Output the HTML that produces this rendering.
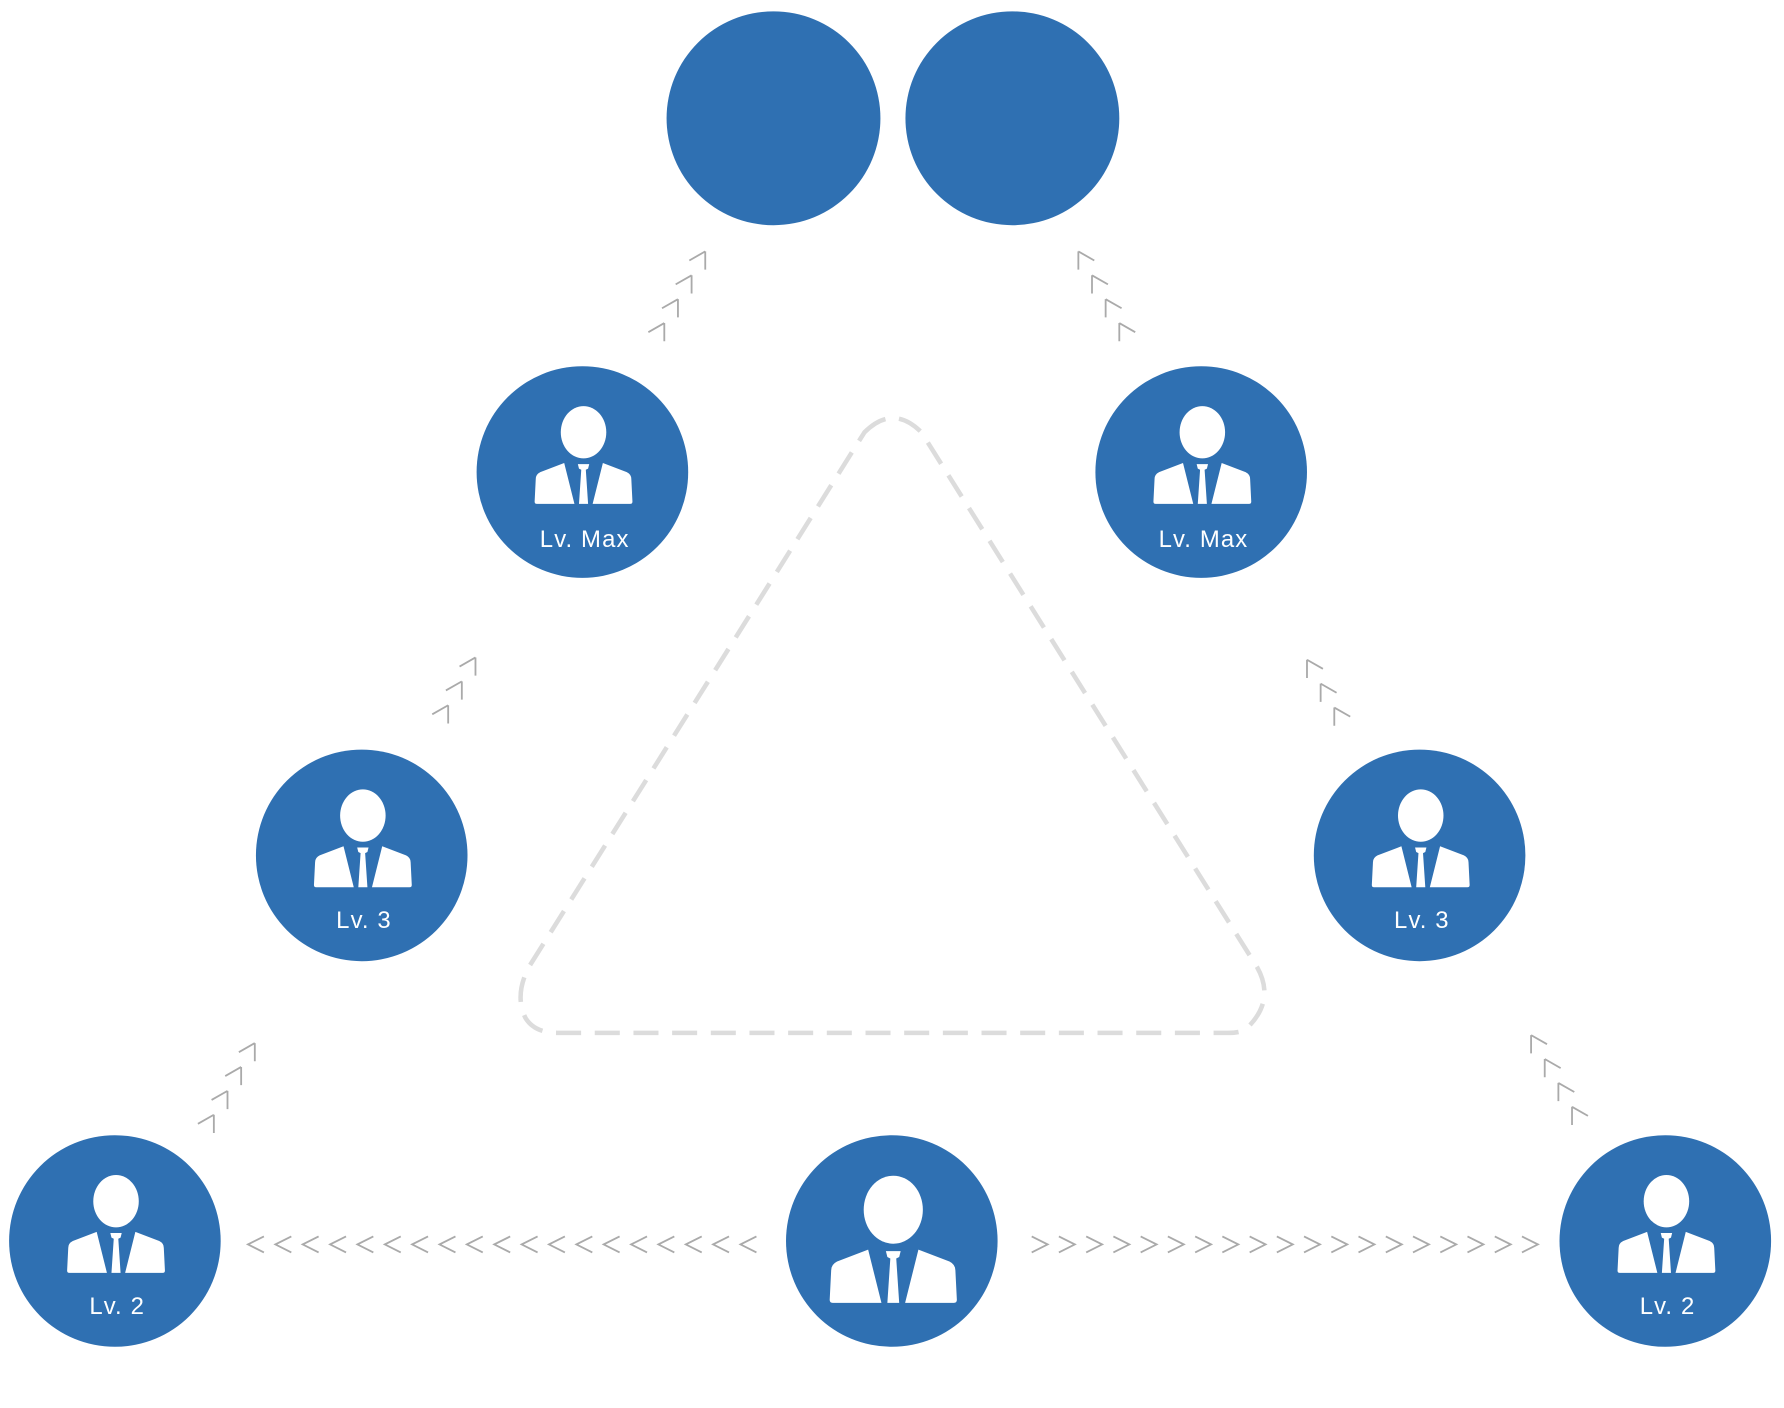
<!DOCTYPE html>
<html><head><meta charset="utf-8"><style>html,body{margin:0;padding:0;background:#fff}svg{display:block}</style></head>
<body>
<svg width="1784" height="1408" viewBox="0 0 1784 1408" xmlns="http://www.w3.org/2000/svg">
<defs>
<g id="man" fill="#fff">
<ellipse cx="1" cy="-35" rx="20" ry="23"/>
<path d="M-16,-8 L-37,0 Q-41,2 -41,6 L-42,26 Q-42,28 -40,28 L-7,28 Z"/>
<path d="M18,-8 L39,0 Q43,2 43,6 L44,26 Q44,28 42,28 L9,28 Z"/>
<path d="M-4,-7 L6,-7 L5,-3 L3,-2 L5,28 L-3,28 L-1,-2 L-3,-3 Z"/>
</g>
<g id="cl"><path d="M0,0 L0,16 M0,0 L-14,8" fill="none" stroke="#aaa" stroke-width="1.6"/></g>
<g id="cr"><path d="M0,0 L0,16 M0,0 L14,8" fill="none" stroke="#aaa" stroke-width="1.6"/></g>
<g id="lt"><path d="M14,-7 L0,0 L14,7" fill="none" stroke="#aaa" stroke-width="1.6"/></g>
<g id="gt"><path d="M-14,-7 L0,0 L-14,7" fill="none" stroke="#aaa" stroke-width="1.6"/></g>
</defs>
<g transform="scale(1.1375)">
<path d="M760,380 Q785,355 810,380 L1105,850 Q1122,880 1095,905 Q1090,908 1080,908 L490,908 Q470,908 462,895 Q452,875 465,850 Z" fill="none" stroke="#dcdcdc" stroke-width="4" stroke-dasharray="22 12"/>
<g fill="#2f70b2">
<circle cx="680" cy="104" r="94"/>
<circle cx="890" cy="104" r="94"/>
<circle cx="512" cy="415" r="93"/>
<circle cx="1056" cy="415" r="93"/>
<circle cx="318" cy="752" r="93"/>
<circle cx="1248" cy="752" r="93"/>
<circle cx="101" cy="1091" r="93"/>
<circle cx="784" cy="1091" r="93"/>
<circle cx="1464" cy="1091" r="93"/>
</g>
<use href="#man" x="512" y="415"/>
<use href="#man" x="1056" y="415"/>
<use href="#man" x="318" y="752"/>
<use href="#man" x="1248" y="752"/>
<use href="#man" x="101" y="1091"/>
<use href="#man" x="1464" y="1091"/>
<g transform="translate(784,1109) scale(1.3)"><use href="#man"/></g>
<g fill="#fff" font-family="Liberation Sans, sans-serif" font-size="21" text-anchor="middle" letter-spacing="1">
<text x="514" y="481">Lv. Max</text>
<text x="1058" y="481">Lv. Max</text>
<text x="320" y="816">Lv. 3</text>
<text x="1250" y="816">Lv. 3</text>
<text x="103" y="1155">Lv. 2</text>
<text x="1466" y="1155">Lv. 2</text>
</g>
<use href="#cl" x="224" y="917"/><use href="#cl" x="212" y="938"/><use href="#cl" x="200" y="959"/><use href="#cl" x="188" y="980"/>
<use href="#cl" x="418" y="578"/><use href="#cl" x="406" y="599"/><use href="#cl" x="394" y="620"/>
<use href="#cl" x="620" y="221"/><use href="#cl" x="608" y="242"/><use href="#cl" x="596" y="263"/><use href="#cl" x="584" y="284"/>
<use href="#cr" x="948" y="221"/><use href="#cr" x="960" y="242"/><use href="#cr" x="972" y="263"/><use href="#cr" x="984" y="284"/>
<use href="#cr" x="1149" y="580"/><use href="#cr" x="1161" y="601"/><use href="#cr" x="1173" y="622"/>
<use href="#cr" x="1346" y="910"/><use href="#cr" x="1358" y="931"/><use href="#cr" x="1370" y="952"/><use href="#cr" x="1382" y="973"/>
<use href="#lt" x="218" y="1094"/><use href="#lt" x="242.1" y="1094"/><use href="#lt" x="266.1" y="1094"/><use href="#lt" x="290.2" y="1094"/><use href="#lt" x="314.2" y="1094"/><use href="#lt" x="338.3" y="1094"/><use href="#lt" x="362.3" y="1094"/><use href="#lt" x="386.4" y="1094"/><use href="#lt" x="410.4" y="1094"/><use href="#lt" x="434.5" y="1094"/><use href="#lt" x="458.6" y="1094"/><use href="#lt" x="482.6" y="1094"/><use href="#lt" x="506.7" y="1094"/><use href="#lt" x="530.7" y="1094"/><use href="#lt" x="554.8" y="1094"/><use href="#lt" x="578.8" y="1094"/><use href="#lt" x="602.9" y="1094"/><use href="#lt" x="626.9" y="1094"/><use href="#lt" x="651" y="1094"/>
<use href="#gt" x="921" y="1094"/><use href="#gt" x="944.9" y="1094"/><use href="#gt" x="968.9" y="1094"/><use href="#gt" x="992.8" y="1094"/><use href="#gt" x="1016.8" y="1094"/><use href="#gt" x="1040.7" y="1094"/><use href="#gt" x="1064.7" y="1094"/><use href="#gt" x="1088.6" y="1094"/><use href="#gt" x="1112.6" y="1094"/><use href="#gt" x="1136.5" y="1094"/><use href="#gt" x="1160.4" y="1094"/><use href="#gt" x="1184.4" y="1094"/><use href="#gt" x="1208.3" y="1094"/><use href="#gt" x="1232.3" y="1094"/><use href="#gt" x="1256.2" y="1094"/><use href="#gt" x="1280.2" y="1094"/><use href="#gt" x="1304.1" y="1094"/><use href="#gt" x="1328.1" y="1094"/><use href="#gt" x="1352" y="1094"/>
</g>
</svg>
</body></html>
